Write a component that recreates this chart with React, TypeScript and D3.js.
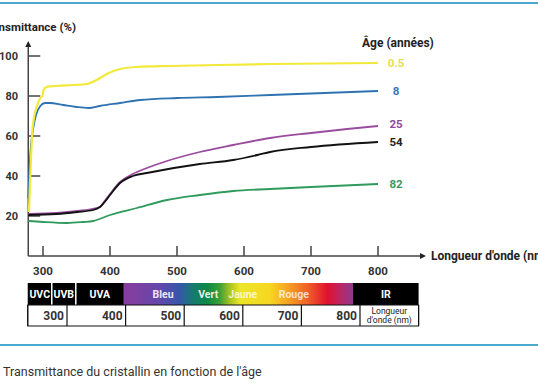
import React, { useRef, useEffect } from "react";
import * as d3 from "d3";

// lens transmittance by age (nm, %)
const curve05 = [[279, 22], [281, 40], [284, 62], [287, 70], [291, 75], [296, 79], [299, 80], [301, 83], [305, 84.5], [320, 85], [345, 85.5], [365, 86], [380, 88], [395, 91], [415, 93.5], [440, 94.5], [490, 95], [560, 95.5], [640, 96], [800, 96.5]];
const curve8 = [[278, 29], [280, 45], [282, 55], [285, 63], [290, 71], [296, 75], [303, 76.5], [310, 76.5], [330, 75.5], [350, 74.5], [368, 74], [385, 75], [415, 76.5], [445, 78], [500, 79], [560, 79.5], [640, 80.5], [720, 81.5], [800, 82.5]];
const curve25 = [[278, 21], [320, 21.5], [351, 22.5], [385, 24.5], [392, 27.5], [400, 31], [415, 37], [434, 41], [455, 44], [485, 47.5], [534, 52], [584, 55.5], [639, 59], [700, 61.5], [754, 63.5], [800, 65]];
const curve54 = [[278, 20.5], [320, 21], [351, 22], [375, 23], [385, 24.5], [392, 27], [400, 30.5], [415, 36.5], [434, 40], [455, 41.5], [534, 46], [584, 48], [620, 50.5], [639, 52], [700, 54.5], [800, 57]];
const curve82 = [[278, 17.5], [300, 17], [336, 16.5], [360, 17], [375, 17.5], [400, 20.5], [440, 24], [485, 28], [534, 30.5], [584, 32.5], [639, 33.5], [700, 34.5], [800, 36]];

const ageLabels = ["0.5", "8", "25", "54", "82"];
const ageCurves = [curve05, curve8, curve25, curve54, curve82];
const ageColors = ["#f2e93a", "#2f72b2", "#9a4c9e", "#111111", "#2e9a5c"];
const ageTextColors = ["#e8e04a", "#3a76b6", "#8e4b98", "#222222", "#3a9a5e"];

const yTicks = [20, 40, 60, 80, 100];
const xTicks = [300, 400, 500, 600, 700, 800];

// spectrum strip under the chart
const bands = [
  { name: "UVC", from: 233, to: 274, fill: "#000" },
  { name: "UVB", from: 274, to: 315, fill: "#000" },
  { name: "UVA", from: 315, to: 397, fill: "#000" },
  { name: "", from: 397, to: 788, fill: "url(#spectre)" },
  { name: "IR", from: 788, to: 900, fill: "#000" },
];
const colourNames = [["Bleu", 464], ["Vert", 541], ["Jaune", 600], ["Rouge", 687]];
const spectrumStops = [[397, "#8a3c9e"], [459, "#6248ab"], [493, "#3558a8"], [515, "#167a70"], [539, "#0c8a45"], [561, "#3ea035"], [578, "#a8c422"], [595, "#ece628"], [646, "#f7d722"], [675, "#f5a623"], [710, "#f06228"], [744, "#e2122e"], [771, "#b42a6e"], [788, "#8c3b8e"]];
const cellEdges = [233, 300, 400, 500, 600, 700, 800, 900];

const FONT = "Roboto, 'DejaVu Sans', sans-serif";

const App = () => {
  const svgRef = useRef<SVGSVGElement>(null);

  useEffect(() => {
    const svg = d3.select(svgRef.current);
    svg.selectAll("*").remove();

    const x = d3.scaleLinear().domain([300, 800]).range([43, 378]);
    const y = d3.scaleLinear().domain([0, 100]).range([256, 56]);
    const x0 = x(278), y0 = y(0);

    svg.append("rect").attr("width", 538).attr("height", 384).attr("fill", "#fff");

    // blue rules
    [3, 345].forEach(ry => {
      svg.append("line").attr("x1", 0).attr("x2", 538).attr("y1", ry).attr("y2", ry)
        .style("stroke", "#4aa9cf").style("stroke-width", 2);
    });

    const axisCol = "#444";
    // y axis + arrow
    svg.append("line").attr("x1", x0).attr("x2", x0).attr("y1", y0).attr("y2", 46)
      .style("stroke", axisCol).style("stroke-width", 1.5);
    svg.append("path").attr("d", `M${x0},41 L${x0 - 3},47 L${x0 + 3},47 Z`).attr("fill", "#222");
    // x axis + arrow
    svg.append("line").attr("x1", x0).attr("x2", 421).attr("y1", y0).attr("y2", y0)
      .style("stroke", axisCol).style("stroke-width", 1.5);
    svg.append("path").attr("d", `M426,${y0} L420,${y0 - 3} L420,${y0 + 3} Z`).attr("fill", "#222");

    svg.append("g").selectAll("line").data(yTicks).join("line")
      .attr("x1", x0).attr("x2", x0 + 12).attr("y1", d => y(d)).attr("y2", d => y(d))
      .style("stroke", axisCol).style("stroke-width", 1.5);
    svg.append("g").selectAll("text").data(yTicks).join("text")
      .attr("x", 18).attr("y", d => y(d) + 4).attr("text-anchor", "end")
      .attr("font-family", FONT).attr("font-size", 11).attr("font-weight", 700).attr("fill", "#333")
      .text(d => d);

    svg.append("g").selectAll("line").data(xTicks).join("line")
      .attr("x1", d => x(d)).attr("x2", d => x(d)).attr("y1", y0).attr("y2", y0 - 10)
      .style("stroke", axisCol).style("stroke-width", 1.5);
    svg.append("g").selectAll("text").data(xTicks).join("text")
      .attr("x", d => x(d)).attr("y", 275).attr("text-anchor", "middle")
      .attr("font-family", FONT).attr("font-size", 11.5).attr("font-weight", 700).attr("fill", "#333")
      .text(d => d);

    svg.append("text").attr("x", 76).attr("y", 31).attr("text-anchor", "end")
      .attr("font-family", FONT).attr("font-size", 11.5).attr("font-weight", 700).attr("fill", "#222")
      .text("Transmittance (%)");
    svg.append("text").attr("x", 431).attr("y", 260)
      .attr("font-family", FONT).attr("font-size", 12).attr("font-weight", 700).attr("fill", "#222")
      .text("Longueur d'onde (nm)");

    // curves: green, purple, black, blue, yellow (black sits over purple)
    const line = d3.line<number[]>().x(d => x(d[0])).y(d => y(d[1])).curve(d3.curveMonotoneX);
    const order = [4, 2, 3, 1, 0];
    order.forEach(i => {
      svg.append("path").attr("d", line(ageCurves[i]))
        .attr("fill", "none").style("stroke", ageColors[i])
        .style("stroke-width", i === 0 ? 2.2 : 1.8);
    });

    // end labels, pushed apart when too close
    const ends = ageCurves.map(c => y(c[c.length - 1][1]));
    for (let i = ends.length - 2; i >= 0; i--) {
      if (ends[i + 1] - ends[i] < 18) ends[i] = ends[i + 1] - 18;
    }
    svg.append("g").selectAll("text").data(ageLabels).join("text")
      .attr("x", 396).attr("y", (d, i) => ends[i] + 4).attr("text-anchor", "middle")
      .attr("font-family", FONT).attr("font-size", 11.5).attr("font-weight", 700)
      .attr("fill", (d, i) => ageTextColors[i])
      .text(d => d);
    svg.append("text").attr("x", 362).attr("y", 47)
      .attr("font-family", FONT).attr("font-size", 12).attr("font-weight", 700).attr("fill", "#222")
      .text("Âge (années)");

    // spectrum strip
    const bx = d3.scaleLinear().domain([300, 800]).range([67, 360]);
    const top = 283, mid = 305, bot = 326;
    const grad = svg.append("defs").append("linearGradient").attr("id", "spectre")
      .attr("x1", 0).attr("x2", 1).attr("y1", 0).attr("y2", 0);
    const gs = d3.scaleLinear().domain([397, 788]).range([0, 1]);
    grad.selectAll("stop").data(spectrumStops).join("stop")
      .attr("offset", d => gs(d[0] as number)).attr("stop-color", d => d[1] as string);

    svg.append("g").selectAll("rect").data(bands).join("rect")
      .attr("x", d => bx(d.from)).attr("width", d => bx(d.to) - bx(d.from))
      .attr("y", top).attr("height", mid - top).attr("fill", d => d.fill);
    // white separators between the UV bands
    svg.append("g").selectAll("line").data([274, 315]).join("line")
      .attr("x1", d => bx(d)).attr("x2", d => bx(d)).attr("y1", top).attr("y2", mid)
      .style("stroke", "#fff").style("stroke-width", 1.5);
    svg.append("g").selectAll("text").data(bands.filter(b => b.name)).join("text")
      .attr("x", d => (bx(d.from) + bx(d.to)) / 2).attr("y", top + 15).attr("text-anchor", "middle")
      .attr("font-family", FONT).attr("font-size", 10.5).attr("font-weight", 700).attr("fill", "#fff")
      .text(d => d.name);
    svg.append("g").selectAll("text").data(colourNames).join("text")
      .attr("x", d => bx(d[1] as number)).attr("y", top + 15).attr("text-anchor", "middle")
      .attr("font-family", FONT).attr("font-size", 10.5).attr("font-weight", 700)
      .attr("fill", "#fff").attr("fill-opacity", d => (d[0] === "Jaune" || d[0] === "Rouge") ? 0.75 : 0.9)
      .text(d => d[0] as string);

    // bottom row of the strip
    svg.append("rect").attr("x", bx(233)).attr("y", mid).attr("width", bx(900) - bx(233)).attr("height", bot - mid)
      .attr("fill", "#fff").style("stroke", "#111").style("stroke-width", 1);
    svg.append("g").selectAll("line").data(cellEdges).join("line")
      .attr("x1", d => bx(d)).attr("x2", d => bx(d)).attr("y1", mid).attr("y2", bot)
      .style("stroke", "#111").style("stroke-width", 1.2);
    svg.append("g").selectAll("text").data(cellEdges.slice(1, -1)).join("text")
      .attr("x", d => bx(d) - 3).attr("y", mid + 15).attr("text-anchor", "end")
      .attr("font-family", FONT).attr("font-size", 12).attr("font-weight", 700).attr("fill", "#333")
      .text(d => d);
    const lastMid = (bx(800) + bx(900)) / 2;
    svg.append("text").attr("x", lastMid).attr("y", mid + 8.5).attr("text-anchor", "middle")
      .attr("font-family", FONT).attr("font-size", 8.5).attr("fill", "#222").text("Longueur");
    svg.append("text").attr("x", lastMid).attr("y", mid + 18).attr("text-anchor", "middle")
      .attr("font-family", FONT).attr("font-size", 8.5).attr("fill", "#222").text("d'onde (nm)");

    // caption
    svg.append("text").attr("x", 3).attr("y", 376)
      .attr("font-family", FONT).attr("font-size", 12.5).attr("fill", "#333")
      .text("Transmittance du cristallin en fonction de l'âge");
  }, []);

  return (
    <svg ref={svgRef} width={538} height={384}
      style={{ position: "absolute", left: 0, top: 0, display: "block" }} />
  );
};

export default App;
